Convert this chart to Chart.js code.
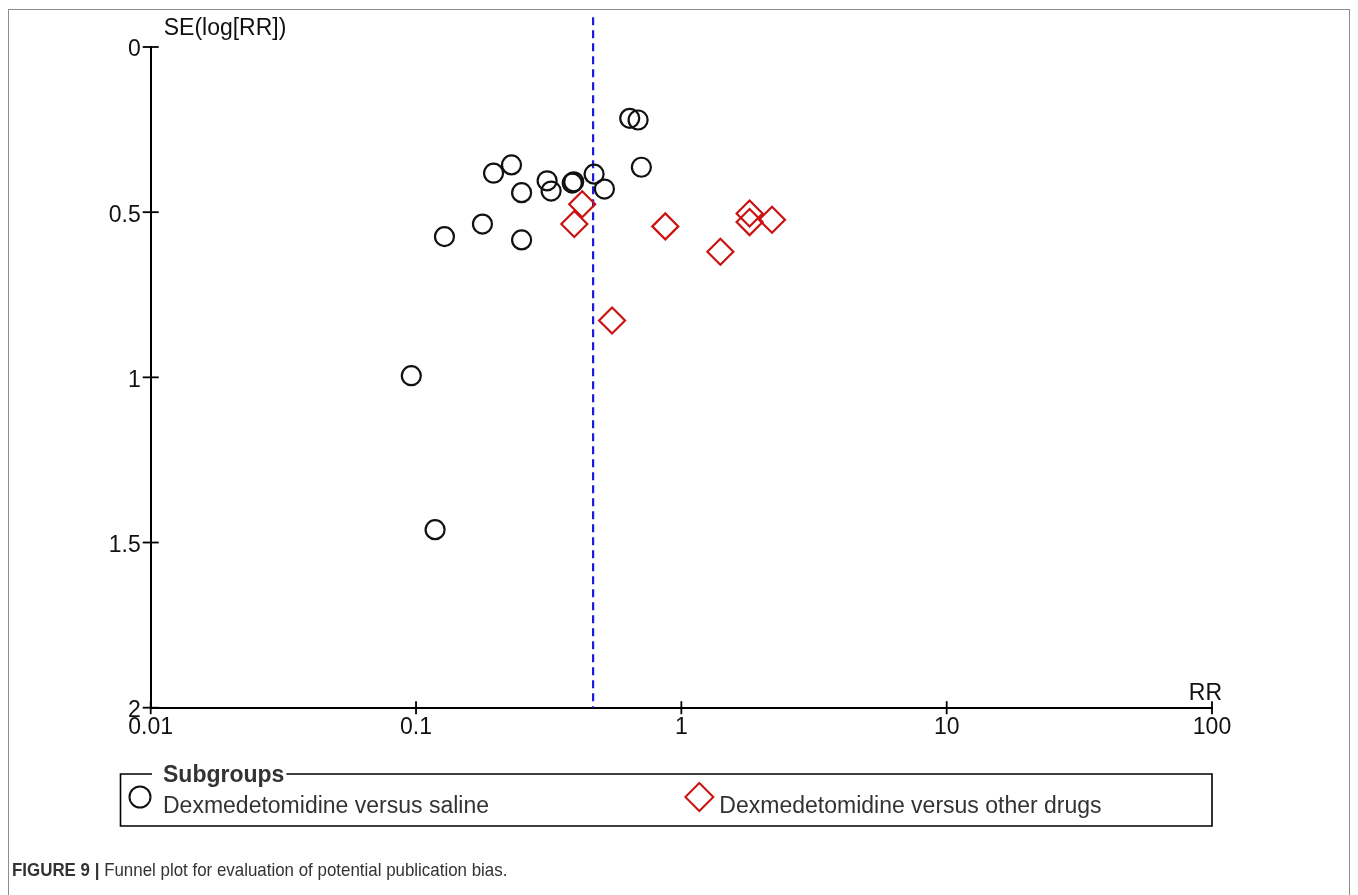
<!DOCTYPE html>
<html>
<head>
<meta charset="utf-8">
<title>Funnel plot</title>
<script src="https://cdn.jsdelivr.net/npm/chart.js@4.4.1/dist/chart.umd.min.js"></script>
<style>
    html, body { margin: 0; padding: 0; background: #fff; }
    #wrap { position: relative; width: 1358px; height: 895px; overflow: hidden; }
    #frame { position: absolute; left: 8px; top: 9px; width: 1342px; height: 920px; border: 1px solid #8c8c8c; box-sizing: border-box; }
    #funnel { position: absolute; left: 0; top: 0; }
    #caption { position: absolute; left: 12px; top: 859px; white-space: nowrap; font-family: "Liberation Sans Narrow", "Liberation Sans", Arial, sans-serif; font-size: 19px; color: #333; transform: scaleX(0.89); transform-origin: left top; }
    #caption b { font-weight: bold; }
</style>
</head>
<body>
<div id="wrap">
    <div id="frame"></div>
    <canvas id="funnel" width="1358" height="895"></canvas>
    <div id="caption"><b>FIGURE 9 |</b> Funnel plot for evaluation of potential publication bias.</div>
</div>
<script>
// Dexmedetomidine versus saline (RR, SE of log RR)
const salineRR = [0.639, 0.687, 0.707, 0.196, 0.229, 0.312, 0.323, 0.250, 0.393, 0.388, 0.469, 0.513, 0.178, 0.128, 0.250, 0.096, 0.118];
const salineSE = [0.216, 0.221, 0.364, 0.382, 0.357, 0.405, 0.436, 0.441, 0.408, 0.412, 0.385, 0.430, 0.536, 0.574, 0.584, 0.995, 1.461];

// Dexmedetomidine versus other drugs
const otherRR = [0.423, 0.395, 0.870, 1.808, 1.808, 2.196, 1.403, 0.548];
const otherSE = [0.476, 0.536, 0.543, 0.504, 0.530, 0.523, 0.620, 0.828];

// pooled estimate (dashed line)
const pooledRR = 0.465;

const xTicks = [0.01, 0.1, 1, 10, 100];
const xTickLabels = ['0.01', '0.1', '1', '10', '100'];
const yTicks = [0, 0.5, 1, 1.5, 2];
const yTickLabels = ['0', '0.5', '1', '1.5', '2'];

const seriesNames = ['Dexmedetomidine versus saline', 'Dexmedetomidine versus other drugs'];

const toPoints = (rr, se) => rr.map((v, i) => ({ x: v, y: se[i] }));

const FONT = '"Liberation Sans", Arial, sans-serif';

// axes ticks, labels, reference line and the legend box
const funnelExtras = {
    id: 'funnelExtras',
    beforeDatasetsDraw(chart) {
        const { ctx, scales: { x, y } } = chart;
        ctx.save();
        ctx.strokeStyle = '#1a1ae0';
        ctx.lineWidth = 2.2;
        ctx.setLineDash([8, 5]);
        const px = x.getPixelForValue(pooledRR);
        ctx.beginPath();
        ctx.moveTo(px, y.getPixelForValue(-0.09));
        ctx.lineTo(px, y.getPixelForValue(2));
        ctx.stroke();
        ctx.restore();
    },
    afterDraw(chart) {
        const { ctx, scales: { x, y } } = chart;
        const axisY = y.getPixelForValue(2);
        const axisX = x.getPixelForValue(0.01);
        ctx.save();
        ctx.strokeStyle = '#000';
        ctx.fillStyle = '#111';
        ctx.lineWidth = 1.8;

        // x ticks
        ctx.font = '23px ' + FONT;
        ctx.textAlign = 'center';
        ctx.textBaseline = 'top';
        xTicks.forEach((v, i) => {
            const p = x.getPixelForValue(v);
            ctx.beginPath();
            ctx.moveTo(p, axisY - 6.5);
            ctx.lineTo(p, axisY + 6.5);
            ctx.stroke();
            ctx.fillText(xTickLabels[i], p, axisY + 8);
        });

        // y ticks
        ctx.textAlign = 'right';
        ctx.textBaseline = 'middle';
        yTicks.forEach((v, i) => {
            const p = y.getPixelForValue(v);
            ctx.beginPath();
            ctx.moveTo(axisX - 8, p);
            ctx.lineTo(axisX + 8, p);
            ctx.stroke();
            ctx.fillText(yTickLabels[i], axisX - 10, p + 3);
        });

        // axis titles
        ctx.textBaseline = 'alphabetic';
        ctx.textAlign = 'left';
        ctx.fillText('SE(log[RR])', axisX + 13, y.getPixelForValue(0) - 12);
        ctx.textAlign = 'right';
        ctx.fillText('RR', x.right + 10, axisY - 8);

        // legend box
        const boxL = 120.5, boxT = 774, boxB = 826, boxR = x.right;
        ctx.lineWidth = 1.6;
        ctx.font = 'bold 23px ' + FONT;
        const titleW = ctx.measureText('Subgroups').width;
        ctx.beginPath();
        ctx.moveTo(152, boxT);
        ctx.lineTo(boxL, boxT);
        ctx.lineTo(boxL, boxB);
        ctx.lineTo(boxR, boxB);
        ctx.lineTo(boxR, boxT);
        ctx.lineTo(163 + titleW + 2, boxT);
        ctx.stroke();
        ctx.textAlign = 'left';
        ctx.fillStyle = '#333';
        ctx.fillText('Subgroups', 163, 782);

        ctx.font = '23px ' + FONT;
        // item 1
        ctx.strokeStyle = '#111';
        ctx.lineWidth = 2;
        ctx.beginPath();
        ctx.arc(140, 797, 10.5, 0, Math.PI * 2);
        ctx.stroke();
        ctx.fillText(seriesNames[0], 163, 813);
        // item 2
        const dx = x.getPixelForValue(1) + 18;
        ctx.strokeStyle = '#cc1111';
        ctx.beginPath();
        ctx.moveTo(dx, 783);
        ctx.lineTo(dx + 14, 797);
        ctx.lineTo(dx, 811);
        ctx.lineTo(dx - 14, 797);
        ctx.closePath();
        ctx.stroke();
        ctx.fillText(seriesNames[1], dx + 20, 813);
        ctx.restore();
    }
};

const ctx = document.getElementById('funnel').getContext('2d');
new Chart(ctx, {
    type: 'scatter',
    data: {
        datasets: [{
            label: seriesNames[0],
            data: toPoints(salineRR, salineSE),
            pointStyle: 'circle',
            pointRadius: 9.5,
            pointHoverRadius: 9.5,
            borderColor: '#111',
            borderWidth: 2.2,
            backgroundColor: 'rgba(0,0,0,0)',
            clip: false
        }, {
            label: seriesNames[1],
            data: toPoints(otherRR, otherSE),
            pointStyle: 'rectRot',
            pointRadius: 13,
            pointHoverRadius: 13,
            borderColor: '#cc1111',
            borderWidth: 2.2,
            backgroundColor: 'rgba(0,0,0,0)',
            clip: false
        }]
    },
    options: {
        responsive: false,
        animation: false,
        devicePixelRatio: 1,
        layout: { padding: { left: 142.7, right: 146, top: 47, bottom: 179.3 } },
        plugins: {
            legend: { display: false },
            tooltip: { enabled: false }
        },
        scales: {
            x: {
                type: 'logarithmic',
                min: 0.01,
                max: 100,
                ticks: { display: false },
                grid: { display: false },
                border: { display: true, color: '#000', width: 2 }
            },
            y: {
                type: 'linear',
                reverse: true,
                min: 0,
                max: 2,
                ticks: { display: false },
                grid: { display: false },
                border: { display: true, color: '#000', width: 2 }
            }
        }
    },
    plugins: [funnelExtras]
});
</script>
</body>
</html>
